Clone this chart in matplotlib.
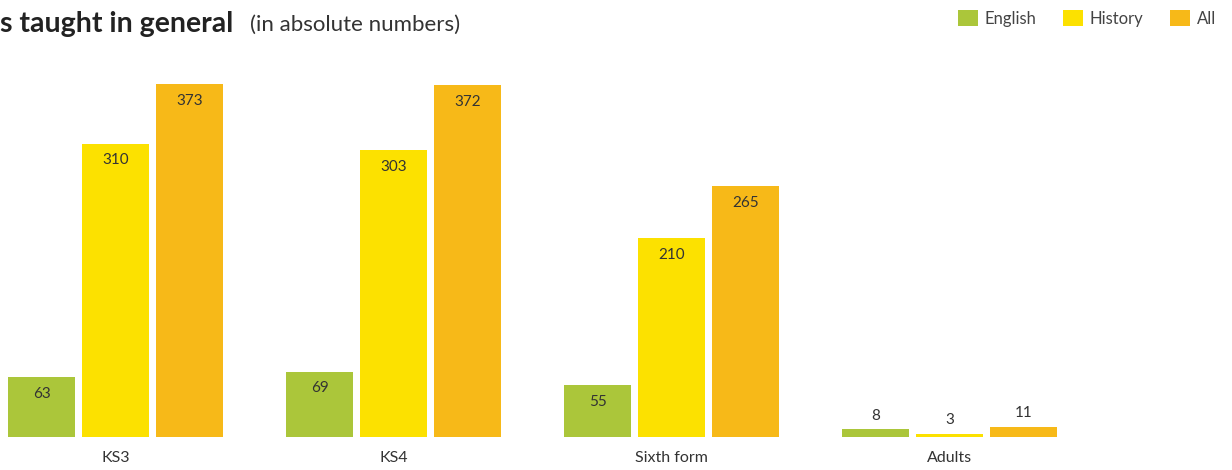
import numpy as np
import matplotlib.pyplot as plt

plt.rcParams['font.family'] = ['Lato', 'DejaVu Sans']

categories = ['KS3', 'KS4', 'Sixth form', 'Adults']
series_names = ['English', 'History', 'All']
english = [63, 69, 55, 8]
history = [310, 303, 210, 3]
all_subjects = [373, 372, 265, 11]
colors = ['#abc63a', '#fce100', '#f7b918']

fig = plt.figure(figsize=(12.32, 4.70), dpi=100)
ax = fig.add_axes([0, 33 / 470, 1, 437 / 470])

x = np.arange(len(categories))
width = 0.241
offset = 0.266
text_col = '#333333'

for i, (name, vals, col) in enumerate(zip(series_names, [english, history, all_subjects], colors)):
    pos = x + (i - 1) * offset
    bars = ax.bar(pos, vals, width=width, color=col, label=name)
    for b, v in zip(bars, vals):
        cx = b.get_x() + b.get_width() / 2
        # small bars get the label above, the rest inside near the top
        if v < 20:
            ax.annotate(str(v), (cx, v), xytext=(0, 10), textcoords='offset points',
                        ha='center', va='center', fontsize=11, color=text_col)
        else:
            ax.annotate(str(v), (cx, v), xytext=(0, -12), textcoords='offset points',
                        ha='center', va='center', fontsize=11, color=text_col)

ax.set_xlim(-115.5 / 278, (1232 - 115.5) / 278)
ax.set_ylim(0, 462)
ax.axis('off')

for xi, cat in zip(x, categories):
    ax.text(xi, -22.5, cat, ha='center', va='center', fontsize=11.5, color=text_col)

fig.text(0.0, 0.948, 's taught in general', fontsize=20.5, fontweight='bold',
         color='#222222', ha='left', va='center')
fig.text(0.203, 0.948, '(in absolute numbers)', fontsize=16,
         color='#333333', ha='left', va='center')

leg = fig.legend(loc='upper right', bbox_to_anchor=(0.999, 1.01), ncol=3, frameon=False,
                 fontsize=12, handlelength=1.2, handleheight=1.1, handletextpad=0.4,
                 columnspacing=1.6, labelcolor='#444444')

fig.savefig('out.png', dpi=100)
